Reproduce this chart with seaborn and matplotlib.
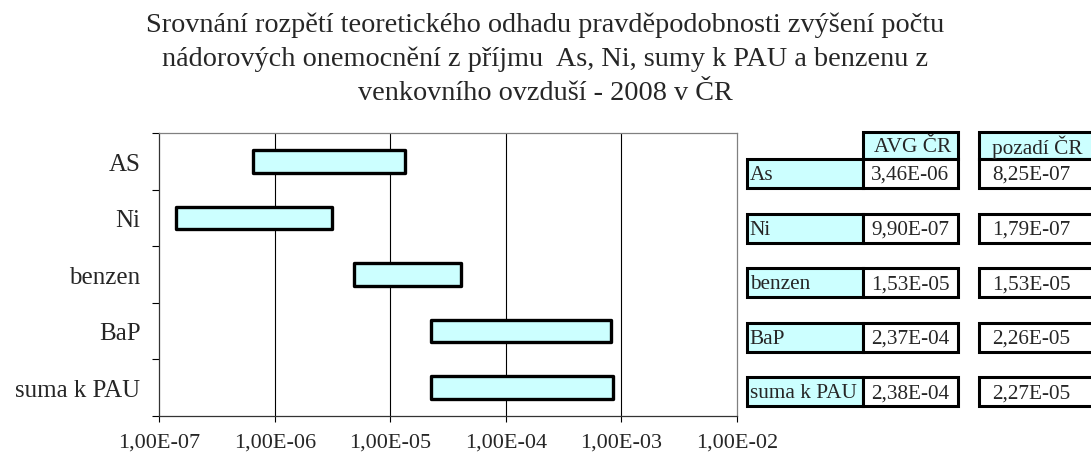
import matplotlib
matplotlib.use("Agg")
import matplotlib.pyplot as plt
from matplotlib.patches import Rectangle
import seaborn as sns
import pandas as pd
import numpy as np

# ---- data ----
categories = ["AS", "Ni", "benzen", "BaP", "suma k PAU"]
range_low = [6.5e-7, 1.39e-7, 4.9e-6, 2.26e-5, 2.27e-5]
range_high = [1.35e-5, 3.16e-6, 4.11e-5, 8.17e-4, 8.49e-4]
xtick_values = [1e-7, 1e-6, 1e-5, 1e-4, 1e-3, 1e-2]
xtick_labels = ["1,00E-07", "1,00E-06", "1,00E-05", "1,00E-04", "1,00E-03", "1,00E-02"]

table_header = ["AVG ČR", "pozadí ČR"]
table_labels = ["As", "Ni", "benzen", "BaP", "suma k PAU"]
avg_cr = ["3,46E-06", "9,90E-07", "1,53E-05", "2,37E-04", "2,38E-04"]
pozadi_cr = ["8,25E-07", "1,79E-07", "1,53E-05", "2,26E-05", "2,27E-05"]

title_lines = ["Srovnání rozpětí teoretického odhadu pravděpodobnosti zvýšení počtu",
               "nádorových onemocnění z příjmu  As, Ni, sumy k PAU a benzenu z",
               "venkovního ovzduší - 2008 v ČR"]

sns.set_theme(style="white")
plt.rcParams["font.family"] = ["Liberation Serif", "DejaVu Serif"]

W, H = 1091, 456
fig = plt.figure(figsize=(W / 100, H / 100), dpi=100)
fig.patch.set_facecolor("white")

ax = fig.add_axes([159.3 / W, (H - 416.7) / H, (736.7 - 159.3) / W, (416.7 - 134) / H])

df = pd.DataFrame({"cat": categories, "low": range_low, "high": range_high})
sns.barplot(data=df, x="high", y="cat", orient="y", color="#CCFFFF",
            edgecolor="black", linewidth=2.4, width=0.40, saturation=1, ax=ax,
            zorder=3)
# turn into floating bars (low -> high)
for patch, lo, hi in zip(ax.patches, df["low"], df["high"]):
    patch.set_x(lo)
    patch.set_width(hi - lo)
    patch.set_facecolor("#CCFFFF")
    patch.set_joinstyle("round")

ax.set_xscale("log")
ax.set_xlim(1e-7, 1e-2)
ax.set_ylim(4.5, -0.5)
ax.set_xticks(xtick_values)
ax.set_xticklabels(xtick_labels)
ax.xaxis.set_minor_locator(matplotlib.ticker.NullLocator())
ax.set_xlabel("")
ax.set_ylabel("")

# y: boundary ticks + centred labels
ax.set_yticks(np.arange(-0.5, len(categories), 1.0))
ax.set_yticklabels([])
ax.set_yticks(np.arange(len(categories)), minor=True)
ax.set_yticklabels(categories, minor=True)
ax.tick_params(axis="y", which="major", direction="out", length=5.4, width=0.8,
               color="black", left=True)
ax.tick_params(axis="y", which="minor", length=0, pad=13.5, labelsize=18)
ax.tick_params(axis="x", which="major", direction="out", length=4, width=0.8,
               color="black", bottom=True, pad=8, labelsize=16)

ax.grid(False)
for v in xtick_values[1:-1]:
    ax.axvline(v, color="black", lw=0.8, zorder=1)

for side in ["left", "bottom"]:
    ax.spines[side].set_color("#333333")
    ax.spines[side].set_linewidth(0.9)
for side in ["top", "right"]:
    ax.spines[side].set_visible(True)
    ax.spines[side].set_color("#808080")
    ax.spines[side].set_linewidth(0.9)

# ---- title ----
for base_px, line in zip([31.7, 65.7, 100.2], title_lines):
    fig.text(0.5, 1 - base_px / H, line, ha="center", va="baseline", fontsize=20.3)

# ---- table ----
tab = fig.add_axes([0, 0, 1, 1], facecolor="none")
tab.set_xlim(0, W)
tab.set_ylim(H, 0)
tab.axis("off")

cyan = "#CCFFFF"
lw = 2.2
xl0, xl1 = 746.7, 863.3
xa0, xa1 = 863.3, 957.7
xp0, xp1 = 979.3, 1096
hy0, hh = 132.7, 27.3
row_y0, row_step, row_h = 160.0, 54.6, 29.0
tfs = 15.3

def cell(x0, x1, y0, h, fc):
    tab.add_patch(Rectangle((x0, y0), x1 - x0, h, facecolor=fc, edgecolor="black",
                            lw=lw, clip_on=False))

cell(xa0, xa1, hy0, hh, cyan)
cell(xp0, xp1, hy0, hh, cyan)
tab.text((xa0 + xa1) / 2 + 2, hy0 + hh / 2 + 1, table_header[0], ha="center", va="center", fontsize=tfs)
tab.text(1037, hy0 + hh / 2 + 1, table_header[1], ha="center", va="center", fontsize=tfs)

for i, (lab, a, p) in enumerate(zip(table_labels, avg_cr, pozadi_cr)):
    y0 = row_y0 + i * row_step
    cell(xl0, xl1, y0, row_h, cyan)
    cell(xa0, xa1, y0, row_h, "white")
    cell(xp0, xp1, y0, row_h, "white")
    yc = y0 + row_h / 2 + 1
    tab.text(xl0 + 3, yc, lab, ha="left", va="center", fontsize=tfs)
    tab.text((xa0 + xa1) / 2, yc, a, ha="center", va="center", fontsize=tfs)
    tab.text(1031, yc, p, ha="center", va="center", fontsize=tfs)

fig.savefig("out.png", dpi=100)
